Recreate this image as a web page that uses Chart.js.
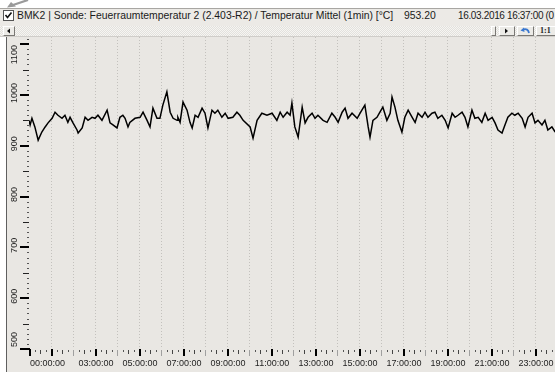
<!DOCTYPE html>
<html><head><meta charset="utf-8">
<script src="https://cdn.jsdelivr.net/npm/chart.js@4"></script>
<style>
html,body{margin:0;padding:0;background:#fff;width:555px;height:372px;overflow:hidden;font-family:"Liberation Sans",Arial,sans-serif;}
.abs{position:absolute;}
#topstrip{left:0;top:0;width:555px;height:8px;background:#fff;}
#title{left:0;top:8px;width:555px;height:18px;background:#eceae6;border-top:1px solid #a8a6a2;box-sizing:border-box;}
#scroll{left:0;top:26px;width:555px;height:11px;background-color:#f3f2ef;background-image:repeating-conic-gradient(#e2e1dd 0 25%, #f6f5f2 0 50%);background-size:2px 2px;border-bottom:1px solid #cfcdc9;box-sizing:border-box;}
.t{font-size:10.4px;color:#1a1a1a;white-space:nowrap;line-height:12px;}
.btn{background:#ecebe7;border:1px solid;border-color:#fff #7a7874 #7a7874 #fff;box-sizing:border-box;}
#wrap{left:0;top:37px;width:555px;height:335px;}
</style></head>
<body>
<div id="topstrip" class="abs"><svg width="40" height="8" style="position:absolute;left:4px;top:0"><path d="M24 0 L6 6" stroke="#9a9a9a" stroke-width="2.2" fill="none"/><path d="M3 7.5 L12 6.5 L7 2 Z" fill="#9a9a9a"/></svg></div>
<div id="title" class="abs">
  <div class="abs" style="left:3px;top:1px;width:11px;height:11px;background:#fff;border:1px solid #555;box-sizing:border-box;"><svg width="9" height="9" style="position:absolute;left:0;top:0"><path d="M1.5 4 L3.5 6.5 L7.5 1.5" stroke="#111" stroke-width="1.6" fill="none"/></svg></div>
  <div class="abs t" style="left:17px;top:1px;">BMK2 | Sonde: Feuerraumtemperatur 2 (2.403-R2) / Temperatur Mittel (1min) [°C]</div>
  <div class="abs t" style="left:404px;top:1px;">953.20</div>
  <div class="abs t" style="left:458px;top:1px;font-size:10px;letter-spacing:-0.35px;">16.03.2016 16:37:00 (0</div>
</div>
<div id="scroll" class="abs">
  <div class="abs btn" style="left:3px;top:0px;width:12px;height:10px;"><svg width="10" height="8" style="position:absolute;left:0;top:0"><path d="M3 4 L6 1.5 L6 6.5 Z" fill="#111"/></svg></div>
  <div class="abs btn" style="left:491px;top:0px;width:5px;height:10px;"></div>
  <div class="abs btn" style="left:499px;top:0px;width:16px;height:10px;"><svg width="14" height="8" style="position:absolute;left:0;top:0"><path d="M5 1.5 L8 4 L5 6.5 Z" fill="#111"/></svg></div>
  <div class="abs btn" style="left:517px;top:0px;width:17px;height:10px;"><svg width="15" height="8" style="position:absolute;left:0;top:0"><path d="M11 6 Q10 1 5 2.5" stroke="#3a78d0" stroke-width="1.8" fill="none"/><path d="M2.5 3.5 L6 0.5 L6.5 5 Z" fill="#3a78d0"/></svg></div>
  <div class="abs btn" style="left:536px;top:0px;width:22px;height:10px;"><span class="abs" style="left:3px;top:-1px;font:bold 8px 'Liberation Serif',serif;color:#222;">1:1</span></div>
</div>
<div id="wrap" class="abs"><canvas id="c" width="555" height="335"></canvas></div>
<script>
// ---- data (time in minutes since 00:00, temperature in °C) ----
const times = [0,3,8,16,25,35,44,52,63,71,
79,90,98,106,112,120,131,134,145,153,
161,172,180,188,199,213,221,229,240,248,
256,262,270,275,289,303,311,322,330,338,
349,357,365,376,385,393,404,406,412,420,
431,439,445,453,461,472,480,488,499,507,
515,526,535,543,556,567,575,584,603,611,
622,635,649,663,676,685,693,704,712,717,
725,734,745,753,761,772,780,788,802,813,
826,835,843,854,862,870,881,895,903,911,
916,925,930,938,949,957,965,976,985,990,
998,1006,1017,1025,1034,1045,1053,1061,1072,1080,
1088,1099,1107,1115,1126,1135,1143,1154,1162,1170,
1181,1189,1197,1208,1216,1225,1235,1244,1252,1263,
1271,1279,1290,1298,1306,1317,1325,1334,1345,1353,
1361,1372,1380,1388,1399,1407,1415,1426,1435];
const temps = [950,941,954,937,911,927,937,945,954,966,
960,954,960,946,956,945,931,925,935,956,
950,956,954,960,950,970,945,941,935,956,
960,954,937,946,954,956,966,950,937,974,
954,954,980,1006,966,954,950,956,946,986,
970,946,935,960,956,974,964,935,970,964,
970,956,964,954,956,966,960,950,937,915,
950,964,960,964,950,966,956,966,960,984,
937,917,976,945,956,964,954,960,950,946,
964,956,946,966,974,954,964,954,964,974,
980,937,917,950,956,966,976,950,964,996,
976,950,927,956,970,956,946,964,956,966,
956,964,966,954,960,950,935,964,956,960,
966,956,937,970,954,956,946,964,950,956,
945,931,925,941,956,964,960,964,954,937,
956,964,945,950,941,950,931,937,927];
const yLabelValues = [500,600,700,800,900,1000,1100];
const xLabelHours = [0,3,5,7,9,11,13,15,17,19,21,23];
const xLabels = ["00:00:00","03:00:00","05:00:00","07:00:00","09:00:00","11:00:00","13:00:00","15:00:00","17:00:00","19:00:00","21:00:00","23:00:00"];

const points = times.map((t,i)=>({x:t,y:temps[i]}));

const decor = {
  id:'decor',
  beforeDraw(chart){
    const {ctx, chartArea:a, scales:{x:xs,y:ys}} = chart;
    const W = chart.width, H = chart.height;
    ctx.save();
    ctx.fillStyle='#fff'; ctx.fillRect(0,0,W,H);
    ctx.fillStyle='#e9e7e3'; ctx.fillRect(7,0,W-7,H);
    ctx.strokeStyle='#5f5f5f'; ctx.lineWidth=1;
    ctx.beginPath(); ctx.moveTo(6.5,0); ctx.lineTo(6.5,H); ctx.stroke();
    // hourly dotted grid
    ctx.strokeStyle='#c3c1bd'; ctx.setLineDash([1,2]);
    for(let h=1;h<=23;h++){
      const px=Math.round(xs.getPixelForValue(h*60))+0.5;
      ctx.beginPath(); ctx.moveTo(px,a.top); ctx.lineTo(px,a.bottom); ctx.stroke();
    }
    ctx.setLineDash([]);
    // y ticks
    for(let v=500; v<=1110; v+=10){
      const py=Math.round(ys.getPixelForValue(v));
      if(v%100===0){
        ctx.fillStyle='#000'; ctx.fillRect(20,py-1,v===500?10:9,2);
      } else if(v%50===0){
        ctx.fillStyle='#222'; ctx.fillRect(23,py,6,1);
      } else {
        ctx.fillStyle='#555'; ctx.fillRect(27,py,2,1);
      }
    }
    // x ticks
    const b = Math.round(a.bottom);
    for(let m=0; m<=1434; m+=15){
      const px=Math.round(xs.getPixelForValue(m));
      if(m%60===0){
        const h=m/60;
        if(h%2===1 || h===0){ ctx.fillStyle='#000'; ctx.fillRect(px,b,2,7); }
        else { ctx.fillStyle='#a0a0a0'; ctx.fillRect(px,b+1,1,6); }
      } else if(m%30===0){
        ctx.fillStyle='#444'; ctx.fillRect(px,b+1,1,4);
      } else {
        ctx.fillStyle='#555'; ctx.fillRect(px,b+1,1,2);
      }
    }
    // x labels
    ctx.fillStyle='#1e1e1e'; ctx.font='9px "Liberation Sans", Arial, sans-serif';
    ctx.textBaseline='alphabetic';
    xLabelHours.forEach((h,i)=>{
      const px=xs.getPixelForValue(h*60);
      ctx.textAlign = h===0 ? 'left' : 'center';
      ctx.fillText(xLabels[i], px+1, b+17);
    });
    // y labels (rotated)
    yLabelValues.forEach(v=>{
      const py=ys.getPixelForValue(v);
      const s=String(v); const w=ctx.measureText(s).width;
      let c=py-2; c=Math.max(8+w/2, Math.min(310-w/2, c));
      ctx.save(); ctx.translate(17,c); ctx.rotate(-Math.PI/2);
      ctx.textAlign='center'; ctx.fillText(s,0,0); ctx.restore();
    });
    ctx.restore();
  }
};

new Chart(document.getElementById('c'),{
  type:'line',
  data:{datasets:[{data:points,borderColor:'#000',borderWidth:1.5,pointRadius:0,tension:0,fill:false}]},
  options:{
    responsive:false,animation:false,
    layout:{padding:{left:29,right:0,top:0,bottom:23}},
    plugins:{legend:{display:false},tooltip:{enabled:false}},
    scales:{
      x:{type:'linear',min:0,max:1434.5,display:false},
      y:{type:'linear',min:500,max:1114,display:false}
    }
  },
  plugins:[decor]
});
</script>
</body></html>
